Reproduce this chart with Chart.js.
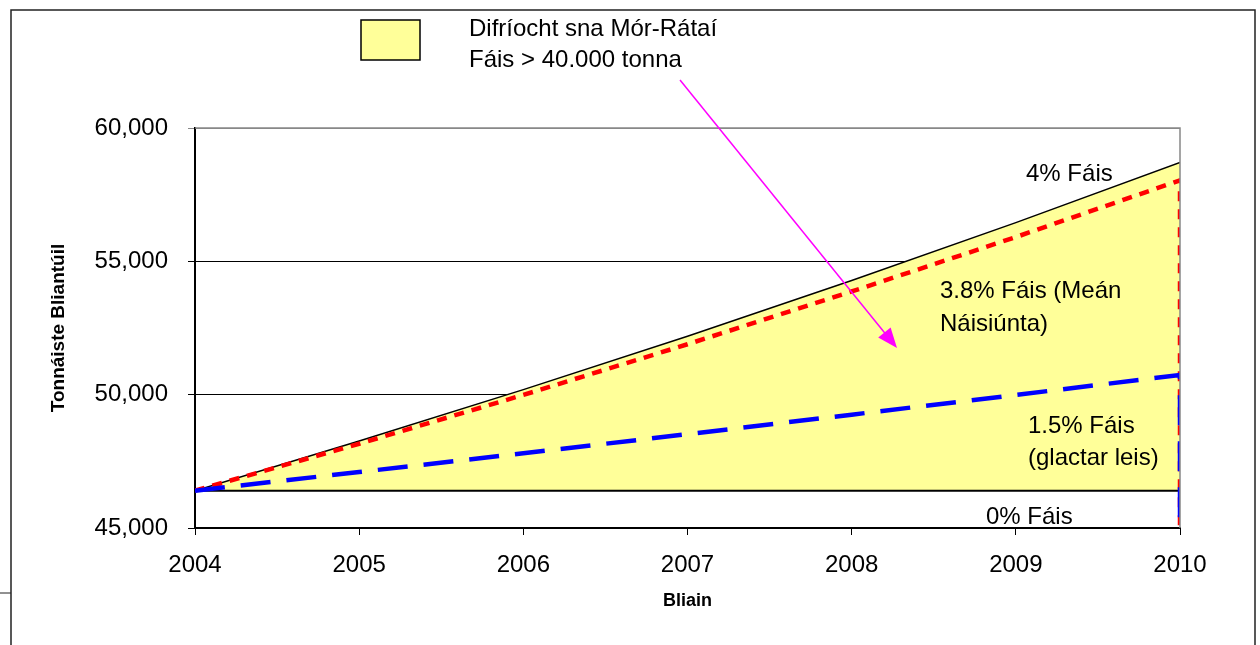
<!DOCTYPE html>
<html>
<head>
<meta charset="utf-8">
<script src="https://cdn.jsdelivr.net/npm/chart.js@4"></script>
<style>
  html, body { margin: 0; padding: 0; background: #fff; }
  #wrap { width: 1260px; height: 645px; }
</style>
</head>
<body>
<div id="wrap"><canvas id="chart"></canvas></div>
<script>
// years on the x axis
const years = [2004, 2005, 2006, 2007, 2008, 2009, 2010]

// annual tonnage
const growth0 = [46400, 46400, 46400, 46400, 46400, 46400, 46400]
const growth4 = [46400, 48260, 50190, 52190, 54280, 56450, 58710]
const growth38 = [46400, 48160, 49990, 51890, 53870, 55910, 58040]
const growth15 = [46400, 47100, 47800, 48520, 49250, 49990, 50740]

// the dashed lines drop to the axis at the last year
const dropTo = 45000

const yTicks = [45000, 50000, 55000, 60000]

const legendLines = ['Difríocht sna Mór-Rátaí', 'Fáis > 40.000 tonna']

const toPoints = (arr) => arr.map((v, i) => ({ x: years[i], y: v }))
const withDrop = (arr) => toPoints(arr).concat([{ x: years[years.length - 1], y: dropTo }])

const font = 'Liberation Sans, Arial, sans-serif'

// extra drawing: frame, plot border, legend box, labels, arrow
const decorations = {
  id: 'decorations',
  beforeDraw(chart) {
    const ctx = chart.ctx
    ctx.save()
    ctx.fillStyle = '#fff'
    ctx.fillRect(0, 0, chart.width, chart.height)
    ctx.restore()
  },
  afterDraw(chart) {
    const ctx = chart.ctx
    const { left, right, top, bottom } = chart.chartArea
    const xs = chart.scales.x
    const ys = chart.scales.y
    ctx.save()

    // outer frame
    ctx.strokeStyle = '#222'
    ctx.lineWidth = 1.5
    ctx.beginPath()
    ctx.moveTo(11, 650)
    ctx.lineTo(11, 10)
    ctx.lineTo(1255, 10)
    ctx.lineTo(1255, 650)
    ctx.stroke()
    ctx.lineWidth = 1
    ctx.beginPath()
    ctx.moveTo(0, 593)
    ctx.lineTo(11, 593)
    ctx.stroke()

    // plot area top / right border
    ctx.strokeStyle = '#888'
    ctx.lineWidth = 1.5
    ctx.beginPath()
    ctx.moveTo(left, top)
    ctx.lineTo(right, top)
    ctx.lineTo(right, bottom)
    ctx.stroke()

    // legend box
    ctx.fillStyle = '#FFFF99'
    ctx.strokeStyle = '#000'
    ctx.lineWidth = 1.5
    ctx.fillRect(361, 20, 59, 40)
    ctx.strokeRect(361, 20, 59, 40)
    ctx.fillStyle = '#000'
    ctx.font = '24px ' + font
    ctx.textBaseline = 'alphabetic'
    ctx.textAlign = 'left'
    ctx.fillText(legendLines[0], 469, 36)
    ctx.fillText(legendLines[1], 469, 67)

    // series labels
    const label = (text, xv, yv) => {
      ctx.fillText(text, xs.getPixelForValue(xv), ys.getPixelForValue(yv))
    }
    label('4% Fáis', 2009.062, 58010)
    label('3.8% Fáis (Meán', 2008.538, 53620)
    label('Náisiúnta)', 2008.538, 52390)
    label('1.5% Fáis', 2009.074, 48560)
    label('(glactar leis)', 2009.074, 47360)
    label('0% Fáis', 2008.818, 45150)

    // magenta arrow
    const x1 = 680, y1 = 80, x2 = 897, y2 = 348
    const ang = Math.atan2(y2 - y1, x2 - x1)
    ctx.strokeStyle = '#FF00FF'
    ctx.fillStyle = '#FF00FF'
    ctx.lineWidth = 1.5
    ctx.beginPath()
    ctx.moveTo(x1, y1)
    ctx.lineTo(x2 - 12 * Math.cos(ang), y2 - 12 * Math.sin(ang))
    ctx.stroke()
    ctx.beginPath()
    ctx.moveTo(x2, y2)
    ctx.lineTo(x2 - 20 * Math.cos(ang) + 8 * Math.sin(ang), y2 - 20 * Math.sin(ang) - 8 * Math.cos(ang))
    ctx.lineTo(x2 - 20 * Math.cos(ang) - 8 * Math.sin(ang), y2 - 20 * Math.sin(ang) + 8 * Math.cos(ang))
    ctx.closePath()
    ctx.fill()

    ctx.restore()
  }
}

const ctx = document.getElementById('chart').getContext('2d')
new Chart(ctx, {
  type: 'line',
  data: {
    datasets: [
      {
        label: '0% Fáis',
        data: toPoints(growth0),
        borderColor: '#000',
        borderWidth: 2,
        pointRadius: 0,
        fill: false,
        order: 4
      },
      {
        label: '4% Fáis',
        data: toPoints(growth4),
        borderColor: '#000',
        backgroundColor: '#FFFF99',
        borderWidth: 1.5,
        pointRadius: 0,
        fill: 0,
        order: 5
      },
      {
        label: '3.8% Fáis',
        data: withDrop(growth38),
        borderColor: '#FF0000',
        borderWidth: 4.5,
        borderDash: [10, 8],
        pointRadius: 0,
        fill: false,
        order: 2
      },
      {
        label: '1.5% Fáis',
        data: withDrop(growth15),
        borderColor: '#0000FF',
        borderWidth: 4.5,
        borderDash: [30, 16],
        pointRadius: 0,
        fill: false,
        order: 1
      }
    ]
  },
  options: {
    responsive: true,
    maintainAspectRatio: false,
    animation: false,
    layout: { padding: { left: 0, top: 128, right: 80, bottom: 17 } },
    plugins: {
      legend: { display: false },
      tooltip: { enabled: false }
    },
    scales: {
      x: {
        type: 'linear',
        min: 2004,
        max: 2010,
        afterFit: (scale) => { scale.height = 100 },
        ticks: {
          stepSize: 1,
          color: '#000',
          padding: 16,
          font: { family: font, size: 24 },
          callback: (v) => String(v)
        },
        grid: {
          drawOnChartArea: false,
          drawTicks: true,
          tickLength: 7,
          color: '#000'
        },
        border: { color: '#000', width: 2 },
        title: {
          display: true,
          text: 'Bliain',
          color: '#000',
          font: { family: font, size: 18, weight: 'bold' },
          padding: { top: 0, bottom: 16 }
        }
      },
      y: {
        min: 45000,
        max: 60000,
        afterFit: (scale) => { scale.width = 195 },
        afterBuildTicks: (scale) => { scale.ticks = yTicks.map(v => ({ value: v })) },
        ticks: {
          color: '#000',
          padding: 20,
          font: { family: font, size: 24 },
          callback: (v) => v.toLocaleString('en-US')
        },
        grid: {
          tickLength: 7,
          color: (c) => c.tick && c.tick.value === 60000 ? '#888' : '#000',
          lineWidth: 1
        },
        border: { color: '#000', width: 2 },
        title: {
          display: true,
          text: 'Tonnáiste Bliantúil',
          color: '#000',
          font: { family: font, size: 19, weight: 'bold' },
          padding: { top: 47, bottom: 0 }
        }
      }
    }
  },
  plugins: [decorations]
})
</script>
</body>
</html>
